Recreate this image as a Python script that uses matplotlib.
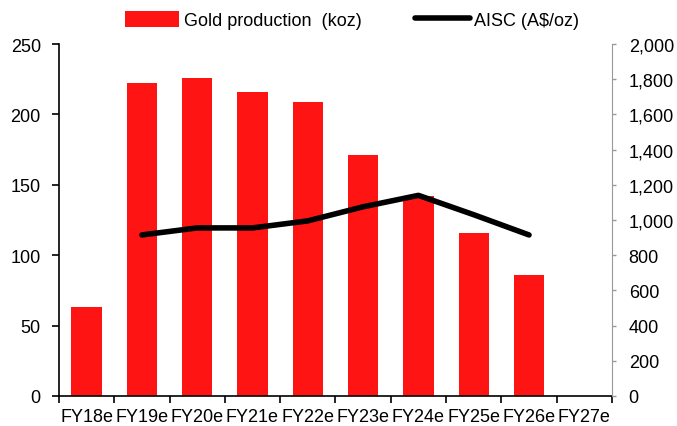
import matplotlib
matplotlib.use("Agg")
import matplotlib.pyplot as plt
from matplotlib.ticker import FuncFormatter
import numpy as np

plt.rcParams['font.family'] = ['Liberation Sans', 'DejaVu Sans']

years = ['FY18e', 'FY19e', 'FY20e', 'FY21e', 'FY22e', 'FY23e', 'FY24e', 'FY25e', 'FY26e', 'FY27e']
gold_koz = [63, 222, 226, 216, 209, 171, 142, 116, 86, np.nan]
aisc = [np.nan, 915, 955, 955, 995, 1075, 1140, 1030, 915, np.nan]

x = np.arange(len(years))

fig = plt.figure(figsize=(6.77, 4.27), dpi=100)
ax = fig.add_axes([0.087, 0.0703, 0.817, 0.8243])
ax2 = ax.twinx()

ax.bar(x, gold_koz, width=0.55, color='#ff1414', label='Gold production  (koz)', zorder=2)
ax2.plot(x, aisc, color='black', lw=4, solid_capstyle='round', solid_joinstyle='round',
         label='AISC (A$/oz)', zorder=3)

ax.set_xlim(-0.5, len(years) - 0.5)
ax.set_ylim(0, 250)
ax.set_yticks(range(0, 251, 50))
ax2.set_ylim(0, 2000)
ax2.set_yticks(range(0, 2001, 200))
ax2.yaxis.set_major_formatter(FuncFormatter(lambda v, p: f'{int(v):,}'))

# category labels centred, ticks on boundaries
ax.set_xticks(x)
ax.set_xticklabels(years)
ax.set_xticks(np.arange(-0.5, len(years), 1), minor=True)
ax.tick_params(axis='x', which='major', length=0, pad=9, labelsize=13)
ax.tick_params(axis='x', which='minor', length=5, width=1.2, color='black')
ax.tick_params(axis='y', length=5, width=1.2, labelsize=13, pad=8)
ax2.tick_params(axis='y', length=3, width=1, color='#999999', labelsize=13, pad=9)

for a in (ax, ax2):
    a.spines['top'].set_visible(False)
ax.spines['right'].set_visible(False)
ax.spines['left'].set_linewidth(1.2)
ax.spines['bottom'].set_linewidth(1.2)
ax2.spines['left'].set_visible(False)
ax2.spines['bottom'].set_visible(False)
ax2.spines['right'].set_color('#999999')

h1, l1 = ax.get_legend_handles_labels()
h2, l2 = ax2.get_legend_handles_labels()
fig.legend(h1 + h2, l1 + l2, loc='upper center', bbox_to_anchor=(0.52, 1.01), ncol=2,
           frameon=False, fontsize=13, handlelength=3.0, handleheight=1.0,
           handletextpad=0.25, columnspacing=3.0)

fig.savefig('out.png', dpi=100)
